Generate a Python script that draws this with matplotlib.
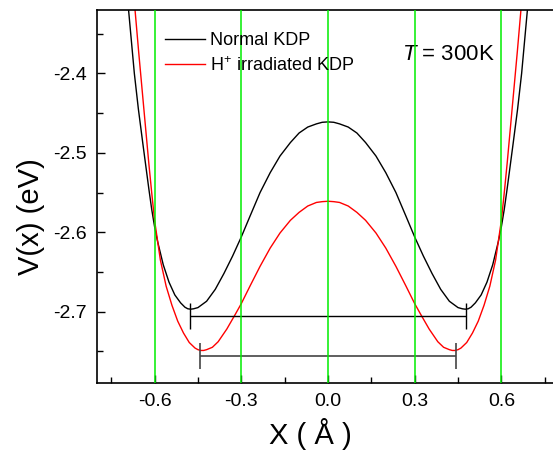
import numpy as np
import matplotlib
matplotlib.use("Agg")
import matplotlib.pyplot as plt
from matplotlib.ticker import MultipleLocator

plt.rcParams['font.family'] = ['Liberation Sans', 'DejaVu Sans']
plt.rcParams['mathtext.fontset'] = 'custom'
plt.rcParams['mathtext.rm'] = 'Liberation Sans'
plt.rcParams['mathtext.it'] = 'Liberation Sans:italic'

# values (left half, mirrored for the right half)
x_normal_half = [-0.69, -0.67, -0.656, -0.64, -0.62, -0.61, -0.60, -0.59, -0.57, -0.55,
                 -0.53, -0.51, -0.495, -0.485, -0.475, -0.465, -0.45, -0.42, -0.39, -0.36,
                 -0.33, -0.30, -0.27, -0.235, -0.20, -0.166, -0.13, -0.10, -0.07, -0.04,
                 -0.02, 0.0]
v_normal_half = [-2.32, -2.40, -2.445, -2.49, -2.545, -2.571, -2.593, -2.611, -2.641, -2.663,
                 -2.679, -2.689, -2.6945, -2.6965, -2.697, -2.6965, -2.695, -2.687, -2.672, -2.652,
                 -2.630, -2.606, -2.580, -2.550, -2.525, -2.504, -2.487, -2.475, -2.4675, -2.4635,
                 -2.4615, -2.461]

x_irr_half = [-0.67, -0.655, -0.64, -0.62, -0.61, -0.60, -0.58, -0.56, -0.54, -0.52,
              -0.50, -0.48, -0.46, -0.45, -0.44, -0.43, -0.42, -0.40, -0.38, -0.35,
              -0.32, -0.30, -0.27, -0.235, -0.20, -0.166, -0.13, -0.10, -0.07, -0.04,
              -0.02, 0.0]
v_irr_half = [-2.31, -2.373, -2.433, -2.513, -2.550, -2.585, -2.635, -2.668, -2.692, -2.712,
              -2.727, -2.739, -2.746, -2.748, -2.749, -2.749, -2.748, -2.745, -2.738, -2.722,
              -2.703, -2.690, -2.668, -2.643, -2.620, -2.601, -2.585, -2.575, -2.567, -2.5625,
              -2.5615, -2.561]

# full curves
x_normal = np.array(x_normal_half + [-x for x in x_normal_half[-2::-1]])
v_normal = np.array(v_normal_half + v_normal_half[-2::-1])
x_irr = np.array(x_irr_half + [-x for x in x_irr_half[-2::-1]])
v_irr = np.array(v_irr_half + v_irr_half[-2::-1])

# well separation bars
bar_y = [-2.705, -2.756]
bar_half = [0.477, 0.443]

grid_x = [-0.6, -0.3, 0.0, 0.3, 0.6]

fig = plt.figure(figsize=(5.53, 4.5), dpi=100)
ax = fig.add_axes([0.1750, 0.1489, 0.8362, 0.8289])

ax.plot(x_normal, v_normal, color='black', lw=1.0, label='Normal KDP')
ax.plot(x_irr, v_irr, color='red', lw=1.0, label='H$^{+}$ irradiated KDP')

ax.errorbar([0.0], [bar_y[0]], xerr=[bar_half[0]], fmt='none', ecolor='black',
            elinewidth=1.0, capsize=9.5, capthick=1.0)
ax.errorbar([0.0], [bar_y[1]], xerr=[bar_half[1]], fmt='none', ecolor='#444444',
            elinewidth=1.2, capsize=9.5, capthick=1.2)

for gx in grid_x:
    ax.axvline(gx, color='#00ee00', lw=1.1, zorder=5)

ax.set_xlim(-0.8, 0.8)
ax.set_ylim(-2.79, -2.32)
ax.xaxis.set_minor_locator(MultipleLocator(0.15))
ax.yaxis.set_minor_locator(MultipleLocator(0.05))
ax.set_xticks([-0.6, -0.3, 0.0, 0.3, 0.6])
ax.set_xticklabels(['-0.6', '-0.3', '0.0', '0.3', '0.6'])
ax.set_yticks([-2.7, -2.6, -2.5, -2.4])
ax.set_yticklabels(['-2.7', '-2.6', '-2.5', '-2.4'])
ax.tick_params(which='both', direction='in', top=False, right=False, labelsize=14)
ax.tick_params(which='major', length=6, width=1.0, pad=7)
ax.tick_params(which='minor', length=4, width=1.0)
for s in ax.spines.values():
    s.set_linewidth(1.2)

ax.set_xlabel('X ( Å )', fontsize=21)
ax.xaxis.set_label_coords(0.461, -0.095)
ax.set_ylabel('V(x) (eV)', fontsize=21)
ax.yaxis.set_label_coords(-0.112, 0.445)

ax.text(0.66, 0.866, '$T$ = 300K', transform=ax.transAxes, fontsize=16,
        ha='left', va='baseline')

ax.legend(loc='upper left', bbox_to_anchor=(0.113, 0.985), frameon=False,
          fontsize=13, handlelength=2.2, handletextpad=0.3, labelspacing=0.4)

fig.savefig('out.png', dpi=100)
